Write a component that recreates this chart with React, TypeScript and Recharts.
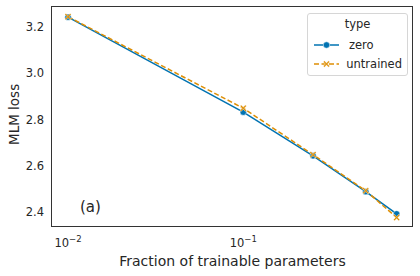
import React from "react";
import { LineChart, Line, XAxis, YAxis } from "recharts";

const fractions = [0.01, 0.1, 0.25, 0.5, 0.75];
const zeroLoss = [3.243, 2.832, 2.643, 2.488, 2.392];
const untrainedLoss = [3.245, 2.849, 2.648, 2.492, 2.376];
const yTicks = [2.4, 2.6, 2.8, 3.0, 3.2];
const xTicks = [0.01, 0.1];

const BLUE = "#0173b2";
const ORANGE = "#de8f05";
const INK = "#262626";
const FONT = "DejaVu Sans, sans-serif";
const X_DOMAIN: [number, number] = [0.0081, 0.93];
const Y_DOMAIN: [number, number] = [2.335, 3.287];

const W = 420;
const H = 276;
const MARGIN = { top: 7, right: 7, left: 0, bottom: 0 };
const Y_AXIS_W = 52;
const X_AXIS_H = 49;

const data = fractions.map((f, i) => ({
  f,
  zero: zeroLoss[i],
  untrained: untrainedLoss[i],
}));

function CircleDot(props: any) {
  const { cx, cy } = props;
  if (cx == null || cy == null) return null;
  return <circle cx={cx} cy={cy} r={3.2} fill={BLUE} stroke="#fff" strokeWidth={0.5} />;
}

function XDot(props: any) {
  const { cx, cy } = props;
  if (cx == null || cy == null) return null;
  const s = 3.2;
  const w = 1.1;
  const d = `M${cx - s},${cy - s + w} L${cx - s + w},${cy - s} L${cx},${cy - w} L${cx + s - w},${cy - s} L${cx + s},${cy - s + w} L${cx + w},${cy} L${cx + s},${cy + s - w} L${cx + s - w},${cy + s} L${cx},${cy + w} L${cx - s + w},${cy + s} L${cx - s},${cy + s - w} L${cx - w},${cy} Z`;
  return <path d={d} fill={ORANGE} stroke="#fff" strokeWidth={0.4} />;
}

function XTick(props: any) {
  const { x, y, payload } = props;
  const exp = Math.round(Math.log10(payload.value));
  return (
    <text x={x} y={y + 12} textAnchor="middle" fontSize={11.5} fill={INK} fontFamily={FONT}>
      10
      <tspan dy={-5} fontSize={8.5}>
        {"\u2212" + Math.abs(exp)}
      </tspan>
    </text>
  );
}

function LegendBox() {
  const row = (label: string, color: string, dashed: boolean, marker: React.ReactNode) => (
    <div style={{ display: "flex", alignItems: "center", height: 19 }}>
      <svg width={30} height={12}>
        <line
          x1={1}
          y1={6}
          x2={26}
          y2={6}
          stroke={color}
          strokeWidth={1.5}
          strokeDasharray={dashed ? "5 2.5" : undefined}
        />
        {marker}
      </svg>
      <span style={{ marginLeft: 6 }}>{label}</span>
    </div>
  );
  return (
    <div
      style={{
        position: "absolute",
        top: 13,
        left: 307,
        border: "1px solid #d6d6d6",
        borderRadius: 3,
        background: "rgba(255,255,255,0.8)",
        fontFamily: FONT,
        fontSize: 11.5,
        color: INK,
        padding: "3px 5px 2px 5px",
        width: 89,
        lineHeight: "14px",
      }}
    >
      <div style={{ textAlign: "center", height: 18 }}>type</div>
      {row("zero", BLUE, false, <CircleDot cx={13.5} cy={6} />)}
      {row("untrained", ORANGE, true, <XDot cx={13.5} cy={6} />)}
    </div>
  );
}

export default function App() {
  // plot box, from the same margin and axis sizes the chart uses
  const box = {
    x: MARGIN.left + Y_AXIS_W - 0.5,
    y: MARGIN.top - 0.5,
    width: W - MARGIN.left - MARGIN.right - Y_AXIS_W,
    height: H - MARGIN.top - MARGIN.bottom - X_AXIS_H,
  };
  return (
    <div style={{ position: "absolute", left: 0, top: 0, width: W, height: H, background: "#fff" }}>
      <LineChart width={W} height={H} data={data} margin={MARGIN}>
        <XAxis
          dataKey="f"
          type="number"
          scale="log"
          domain={X_DOMAIN}
          ticks={xTicks}
          tick={<XTick />}
          tickLine={false}
          axisLine={false}
          height={X_AXIS_H}
          allowDataOverflow
          label={{
            value: "Fraction of trainable parameters",
            position: "insideBottom",
            offset: 10,
            fontSize: 14,
            fill: INK,
            fontFamily: FONT,
          }}
        />
        <YAxis
          type="number"
          domain={Y_DOMAIN}
          ticks={yTicks}
          tickFormatter={(v: number) => v.toFixed(1)}
          tick={{ fontSize: 11.5, fill: INK, fontFamily: FONT }}
          tickLine={false}
          axisLine={false}
          width={Y_AXIS_W}
          allowDataOverflow
          label={{
            value: "MLM loss",
            angle: -90,
            position: "insideLeft",
            offset: 14,
            dy: 28,
            fontSize: 13.5,
            fill: INK,
            fontFamily: FONT,
          }}
        />
        <Line
          dataKey="zero"
          stroke={BLUE}
          strokeWidth={1.5}
          dot={<CircleDot />}
          activeDot={false}
          isAnimationActive={false}
        />
        <Line
          dataKey="untrained"
          stroke={ORANGE}
          strokeWidth={1.5}
          strokeDasharray="5 2.5"
          dot={<XDot />}
          activeDot={false}
          isAnimationActive={false}
        />
        <rect
          x={box.x}
          y={box.y}
          width={box.width}
          height={box.height}
          fill="none"
          stroke="#333"
          strokeWidth={1.25}
          shapeRendering="crispEdges"
        />
        <text x={80} y={212} fontSize={15} fill={INK} fontFamily={FONT}>
          (a)
        </text>
      </LineChart>
      <LegendBox />
    </div>
  );
}
